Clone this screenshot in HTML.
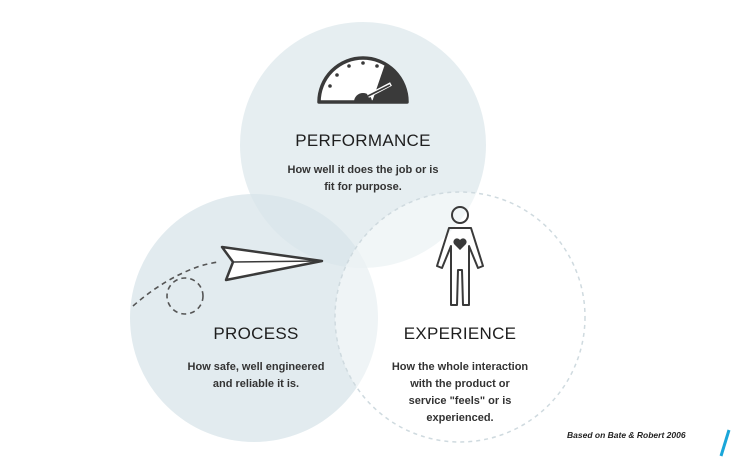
<!DOCTYPE html>
<html><head><style>
html,body{margin:0;padding:0;background:#fff;}
body{width:734px;height:463px;overflow:hidden;}
svg{display:block;}
</style></head><body>
<svg width="734" height="463" viewBox="0 0 734 463" xmlns="http://www.w3.org/2000/svg">
<circle cx="254" cy="318" r="124" fill="#e2ebef"/>
<circle cx="363" cy="145" r="123" fill="#d9e5ea" fill-opacity="0.65"/>
<circle cx="460" cy="317" r="125" fill="#ffffff" fill-opacity="0.45" stroke="#cfdadf" stroke-width="1.5" stroke-dasharray="4 4"/>
<!-- gauge -->
<path d="M319 102 A44 44 0 0 1 407 102 Z" fill="#fff" stroke="#3a3a3a" stroke-width="3.5" stroke-linejoin="round"/>
<path d="M385 64 A44 44 0 0 1 407 102 L372 102 Z" fill="#3a3a3a"/>
<g fill="#3a3a3a"><circle cx="330" cy="86" r="1.8"/><circle cx="337" cy="75" r="1.8"/><circle cx="349" cy="66" r="1.8"/><circle cx="363" cy="63" r="1.8"/><circle cx="377" cy="66" r="1.8"/></g>
<path d="M354 102 A9 9 0 0 1 372 102 Z" fill="#3a3a3a"/>
<line x1="368" y1="96" x2="391" y2="84" stroke="#fff" stroke-width="4"/>
<line x1="368" y1="96" x2="390" y2="85" stroke="#3a3a3a" stroke-width="1.8"/>
<text x="363" y="146" text-anchor="middle" font-family="Liberation Sans,sans-serif" font-size="17" fill="#1e1e1e" letter-spacing="0.3">PERFORMANCE</text>
<text x="363" y="173" text-anchor="middle" font-family="Liberation Sans,sans-serif" font-size="11" font-weight="bold" fill="#333">How well it does the job or is</text>
<text x="363" y="190" text-anchor="middle" font-family="Liberation Sans,sans-serif" font-size="11" font-weight="bold" fill="#333">fit for purpose.</text>
<!-- plane -->
<path d="M133 306 Q165 278 200 266 Q215 262 220 262" fill="none" stroke="#555" stroke-width="1.6" stroke-dasharray="5 4"/>
<circle cx="185" cy="296" r="18" fill="none" stroke="#555" stroke-width="1.6" stroke-dasharray="5 4"/>
<path d="M222 247 L322 261 L226 280 L233 262 Z" fill="#fff" stroke="#3a3a3a" stroke-width="2.5" stroke-linejoin="round"/>
<line x1="233" y1="262" x2="322" y2="261" stroke="#3a3a3a" stroke-width="1.5"/>
<!-- person -->
<g fill="none" stroke="#3a3a3a" stroke-width="2">
<circle cx="460" cy="215" r="8"/>
<path d="M449 228 L471 228 L483 266 L478 268 L469 246 L469 305 L463 305 L462 270 L458 270 L457 305 L451 305 L451 246 L442 268 L437 266 Z" stroke-linejoin="round"/>
</g>
<path d="M460 250 L454 244 A3.2 3.2 0 0 1 460 240 A3.2 3.2 0 0 1 466 244 Z" fill="#3a3a3a"/>
<text x="256" y="339" text-anchor="middle" font-family="Liberation Sans,sans-serif" font-size="17" fill="#1e1e1e" letter-spacing="0.3">PROCESS</text>
<text x="256" y="370" text-anchor="middle" font-family="Liberation Sans,sans-serif" font-size="11" font-weight="bold" fill="#333">How safe, well engineered</text>
<text x="256" y="387" text-anchor="middle" font-family="Liberation Sans,sans-serif" font-size="11" font-weight="bold" fill="#333">and reliable it is.</text>
<text x="460" y="339" text-anchor="middle" font-family="Liberation Sans,sans-serif" font-size="17" fill="#1e1e1e" letter-spacing="0.3">EXPERIENCE</text>
<text x="460" y="370" text-anchor="middle" font-family="Liberation Sans,sans-serif" font-size="11" font-weight="bold" fill="#333">How the whole interaction</text>
<text x="460" y="387" text-anchor="middle" font-family="Liberation Sans,sans-serif" font-size="11" font-weight="bold" fill="#333">with the product or</text>
<text x="460" y="404" text-anchor="middle" font-family="Liberation Sans,sans-serif" font-size="11" font-weight="bold" fill="#333">service "feels" or is</text>
<text x="460" y="421" text-anchor="middle" font-family="Liberation Sans,sans-serif" font-size="11" font-weight="bold" fill="#333">experienced.</text>
<text x="567" y="438" font-family="Liberation Sans,sans-serif" font-size="8.5" font-style="italic" font-weight="bold" fill="#222">Based on Bate &amp; Robert 2006</text>
<line x1="729" y1="430" x2="721" y2="456" stroke="#1aa6d9" stroke-width="3"/>
</svg>
</body></html>
